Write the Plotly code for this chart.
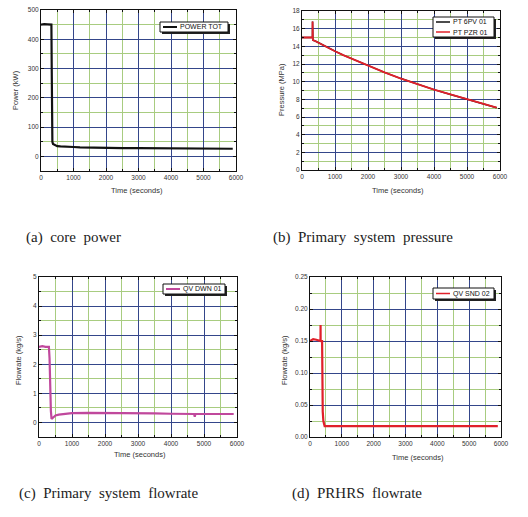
import plotly.graph_objects as go

W, H = 528, 517

# ---------------- data ----------------
power_t = [0, 100, 200, 300, 320, 330, 335, 340, 350, 370, 400, 450, 500, 600, 700, 800, 1000, 1200, 1500, 1800, 2000, 2500, 3000, 3500, 4000, 4500, 5000, 5500, 5900]
power_v = [450, 452, 451, 450, 450, 300, 120, 68, 50, 42, 40, 37, 35, 34, 33, 32, 32, 31, 30, 29, 29, 28, 28, 28, 28, 27, 27, 26, 26]

press_t = [0, 300, 318, 320, 322, 330, 400, 500, 750, 1000, 1250, 1500, 2000, 2500, 3000, 3500, 4000, 4500, 5000, 5500, 5900]
press_gpv = [15.0, 15.0, 15.0, 16.8, 14.8, 14.7, 14.6, 14.4, 13.9, 13.45, 13.0, 12.6, 11.8, 11.05, 10.35, 9.7, 9.1, 8.55, 8.0, 7.5, 7.05]
press_pzr = [15.0, 15.0, 15.0, 16.8, 14.8, 14.7, 14.6, 14.4, 13.9, 13.45, 13.0, 12.6, 11.8, 11.05, 10.35, 9.7, 9.1, 8.55, 8.0, 7.5, 7.05]

flow_t = [0, 100, 200, 300, 320, 340, 360, 380, 400, 450, 500, 600, 800, 1000, 1500, 2000, 2500, 3000, 3500, 4000, 4700, 4720, 4740, 5000, 5500, 5900]
flow_v = [2.6, 2.62, 2.6, 2.6, 2.2, 0.9, 0.4, 0.12, 0.14, 0.2, 0.24, 0.27, 0.3, 0.32, 0.33, 0.33, 0.33, 0.32, 0.31, 0.30, 0.29, 0.2, 0.29, 0.29, 0.28, 0.29]

prhrs_t = [0, 100, 200, 300, 330, 332, 334, 380, 382, 400, 420, 460, 1000, 2000, 3000, 4000, 5000, 5900]
prhrs_v = [0.150, 0.153, 0.152, 0.150, 0.150, 0.175, 0.150, 0.150, 0.085, 0.04, 0.025, 0.017, 0.017, 0.017, 0.017, 0.017, 0.017, 0.017]

names_a = ["POWER TOT"]
names_b = ["PT 6PV 01", "PT PZR 01"]
names_c = ["QV DWN 01"]
names_d = ["QV SND 02"]

x_ticks = [0, 1000, 2000, 3000, 4000, 5000, 6000]
x_title = "Time (seconds)"
y_titles = ["Power (kW)", "Pressure (MPa)", "Flowrate (kg/s)", "Flowrate (kg/s)"]
captions = ["(a)  core  power", "(b)  Primary  system  pressure",
            "(c)  Primary  system  flowrate", "(d)  PRHRS  flowrate"]

# ---------------- styles ----------------
BLUE = "#34468a"
GREEN = "#a8cc80"
BLACK = "#111111"
RED = "#e0202a"
MAGENTA = "#c0489c"

def px(x):
    return x / W

def py(y):
    return 1 - y / H

fig = go.Figure()

panels = [
    dict(xd=(41, 236), yd=(10, 171), xt=(137, 191), yt=(15, 90)),
    dict(xd=(302, 500), yd=(11, 170), xt=(398, 191), yt=(281, 90)),
    dict(xd=(39, 237), yd=(277, 437), xt=(140, 454), yt=(18, 360)),
    dict(xd=(310, 501), yd=(277, 437), xt=(418, 457), yt=(284, 360)),
]

fig.add_trace(go.Scatter(x=power_t, y=power_v, mode="lines", name=names_a[0],
                         line=dict(color=BLACK, width=2.2), xaxis="x", yaxis="y"))
fig.add_trace(go.Scatter(x=press_t, y=press_gpv, mode="lines", name=names_b[0],
                         line=dict(color=BLACK, width=1.5), xaxis="x2", yaxis="y2"))
fig.add_trace(go.Scatter(x=press_t, y=press_pzr, mode="lines", name=names_b[1],
                         line=dict(color=RED, width=1.8), xaxis="x2", yaxis="y2"))
fig.add_trace(go.Scatter(x=flow_t, y=flow_v, mode="lines", name=names_c[0],
                         line=dict(color=MAGENTA, width=2.2), xaxis="x3", yaxis="y3"))
fig.add_trace(go.Scatter(x=prhrs_t, y=prhrs_v, mode="lines", name=names_d[0],
                         line=dict(color=RED, width=2.2), xaxis="x4", yaxis="y4"))

tickfont = dict(family="Liberation Sans, Arial", size=6.5, color="#333333")
titlefont = dict(family="Liberation Sans, Arial", size=7.5, color="#333333")

yconf = [
    dict(range=[-50, 500], dtick=100, tick0=0, minor=50, fmt=None),
    dict(range=[0, 18], dtick=2, tick0=0, minor=1, fmt=None),
    dict(range=[-0.5, 5], dtick=1, tick0=0, minor=0.5, fmt=None),
    dict(range=[0, 0.25], dtick=0.05, tick0=0, minor=0.025, fmt=".2f"),
]

layout = {}
annotations = []
for i, (p, yc) in enumerate(zip(panels, yconf)):
    k = "" if i == 0 else str(i + 1)
    layout["xaxis" + k] = dict(
        domain=[px(p["xd"][0]), px(p["xd"][1])], anchor="y" + k,
        range=[0, 6000], tickvals=x_ticks, ticktext=[str(v) for v in x_ticks],
        showgrid=True, gridcolor=BLUE, gridwidth=1,
        minor=dict(dtick=500, tick0=0, showgrid=True, gridcolor=GREEN, gridwidth=1,
                   ticks="inside", ticklen=2, tickcolor=BLACK),
        showline=True, linecolor=BLACK, linewidth=1, mirror="ticks",
        ticks="inside", ticklen=3, tickcolor=BLACK, ticklabeloverflow="allow",
        zeroline=False, tickfont=tickfont, automargin=False,
    )
    ya = dict(
        domain=[py(p["yd"][1]), py(p["yd"][0])], anchor="x" + k,
        range=yc["range"], dtick=yc["dtick"], tick0=yc["tick0"],
        showgrid=True, gridcolor=BLUE, gridwidth=1,
        minor=dict(dtick=yc["minor"], showgrid=True, gridcolor=GREEN, gridwidth=1,
                   ticks="inside", ticklen=2, tickcolor=BLACK),
        showline=True, linecolor=BLACK, linewidth=1, mirror="ticks",
        ticks="inside", ticklen=3, tickcolor=BLACK, ticklabeloverflow="allow",
        zeroline=False, tickfont=tickfont, automargin=False,
    )
    if yc["fmt"]:
        ya["tickformat"] = yc["fmt"]
    layout["yaxis" + k] = ya
    annotations.append(dict(text=x_title, xref="paper", yref="paper",
                            x=px(p["xt"][0]), y=py(p["xt"][1]), xanchor="center", yanchor="middle",
                            showarrow=False, font=titlefont))
    annotations.append(dict(text=y_titles[i], xref="paper", yref="paper", textangle=-90,
                            x=px(p["yt"][0]), y=py(p["yt"][1]), xanchor="center", yanchor="middle",
                            showarrow=False, font=titlefont))

fig.update_layout(**layout)

# ---------------- legends (manual, boxed with shadow) ----------------
shapes = []

def add_legend(x0, y0, x1, y1, names, colors, widths):
    shapes.append(dict(type="rect", xref="paper", yref="paper",
                       x0=px(x0 + 2), x1=px(x1 + 2), y0=py(y1 + 2), y1=py(y0 + 2),
                       fillcolor="#222222", line=dict(width=0), layer="above"))
    shapes.append(dict(type="rect", xref="paper", yref="paper",
                       x0=px(x0), x1=px(x1), y0=py(y1), y1=py(y0),
                       fillcolor="white", line=dict(color=BLACK, width=1), layer="above"))
    n = len(names)
    step = (y1 - y0) / n
    for j, (nm, c, w) in enumerate(zip(names, colors, widths)):
        yc = y0 + step * (j + 0.5)
        shapes.append(dict(type="line", xref="paper", yref="paper",
                           x0=px(x0 + 3), x1=px(x0 + 17), y0=py(yc), y1=py(yc),
                           line=dict(color=c, width=w), layer="above"))
        annotations.append(dict(text=nm, xref="paper", yref="paper",
                                x=px(x0 + 18), y=py(yc), xanchor="left", yanchor="middle",
                                showarrow=False,
                                font=dict(family="Liberation Sans, Arial", size=7, color="#111111")))

add_legend(160, 22, 228, 32, names_a, [BLACK], [2])
add_legend(433, 17, 494, 37, names_b, [BLACK, RED], [1.5, 1.5])
add_legend(163, 284, 225, 294, names_c, [MAGENTA], [2])
add_legend(433, 288, 494, 299, names_d, [RED], [1.5])

# ---------------- captions ----------------
cap_pos = [(24, 237), (271, 237), (17, 493), (290, 493)]
for txt, (cx, cy) in zip(captions, cap_pos):
    annotations.append(dict(text=txt, xref="paper", yref="paper",
                            x=px(cx), y=py(cy), xanchor="left", yanchor="middle",
                            showarrow=False,
                            font=dict(family="Liberation Serif, Times New Roman", size=15, color="#222222")))

fig.update_layout(
    width=W, height=H, margin=dict(l=0, r=0, t=0, b=0, pad=0, autoexpand=False),
    paper_bgcolor="white", plot_bgcolor="white",
    showlegend=False, shapes=shapes, annotations=annotations,
)

fig.write_html("out.html",
               config={"displayModeBar": False},
               post_script="document.body.style.margin='0';document.body.style.overflow='hidden';")
